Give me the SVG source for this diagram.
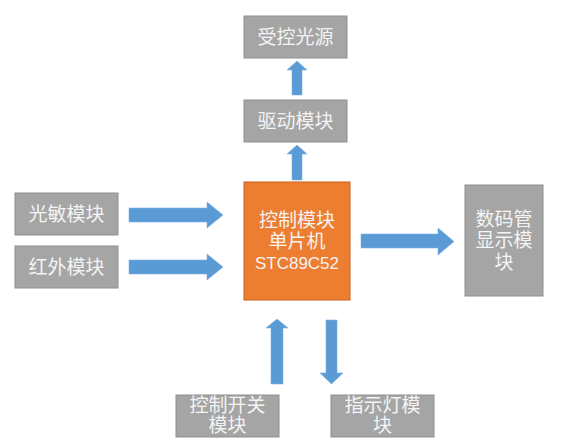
<svg xmlns="http://www.w3.org/2000/svg" width="562" height="447" viewBox="0 0 562 447">
<style>
.box{fill:#a5a5a5;stroke:#8f8f8f;stroke-width:1}
.core{fill:#ed7d31;stroke:#c9611c;stroke-width:1}
.t{font-family:"Liberation Sans","Noto Sans CJK SC",sans-serif;font-size:19px;fill:#f4f4f4;text-anchor:middle}
.lat{font-size:17px}
.arr{fill:#5b9bd5;stroke:#7fb0e0;stroke-width:0.6}
</style>
<rect width="562" height="447" fill="#ffffff"/>
<g id="connectors">
<polygon class="arr" points="292,95 292,70 287,70 297,61 307,70 302,70 302,95"/>
<polygon class="arr" points="292,180 292,154 287,154 297,145 307,154 302,154 302,180"/>
<polygon class="arr" points="129,208 207,208 207,202 223,215 207,228 207,222 129,222"/>
<polygon class="arr" points="129,260 207,260 207,254 223,267 207,280 207,274 129,274"/>
<polygon class="arr" points="361,234 438,234 438,228 454,241.5 438,255 438,248 361,248"/>
<polygon class="arr" points="271,384 271,328 266,328 277,319 288,328 283,328 283,384"/>
<polygon class="arr" points="326,320 337,320 337,373 343,373 331.5,384 320,373 326,373"/>
</g>
<g id="n-light-source">
<rect class="box" x="244" y="16" width="103" height="42"/>
<text class="t" x="295.5" y="44">受控光源</text>
</g>
<g id="n-driver">
<rect class="box" x="244" y="100" width="103" height="42"/>
<text class="t" x="295.5" y="128">驱动模块</text>
</g>
<g id="n-photo">
<rect class="box" x="15" y="193" width="103" height="42"/>
<text class="t" x="66.5" y="221">光敏模块</text>
</g>
<g id="n-ir">
<rect class="box" x="15" y="246" width="103" height="42"/>
<text class="t" x="66.5" y="274">红外模块</text>
</g>
<g id="n-mcu">
<rect class="core" x="244" y="182" width="106" height="118"/>
<text class="t" x="297" y="227">控制模块</text>
<text class="t" x="297" y="248">单片机</text>
<text class="t lat" x="297" y="269">STC89C52</text>
</g>
<g id="n-display">
<rect class="box" x="465" y="185" width="78" height="111"/>
<text class="t" x="504" y="226">数码管</text>
<text class="t" x="504" y="247">显示模</text>
<text class="t" x="504" y="269">块</text>
</g>
<g id="n-switch">
<rect class="box" x="176" y="395" width="103" height="42"/>
<text class="t" x="227.5" y="412">控制开关</text>
<text class="t" x="227.5" y="432">模块</text>
</g>
<g id="n-indicator">
<rect class="box" x="331" y="395" width="103" height="42"/>
<text class="t" x="382.5" y="412">指示灯模</text>
<text class="t" x="382.5" y="432">块</text>
</g>
</svg>
